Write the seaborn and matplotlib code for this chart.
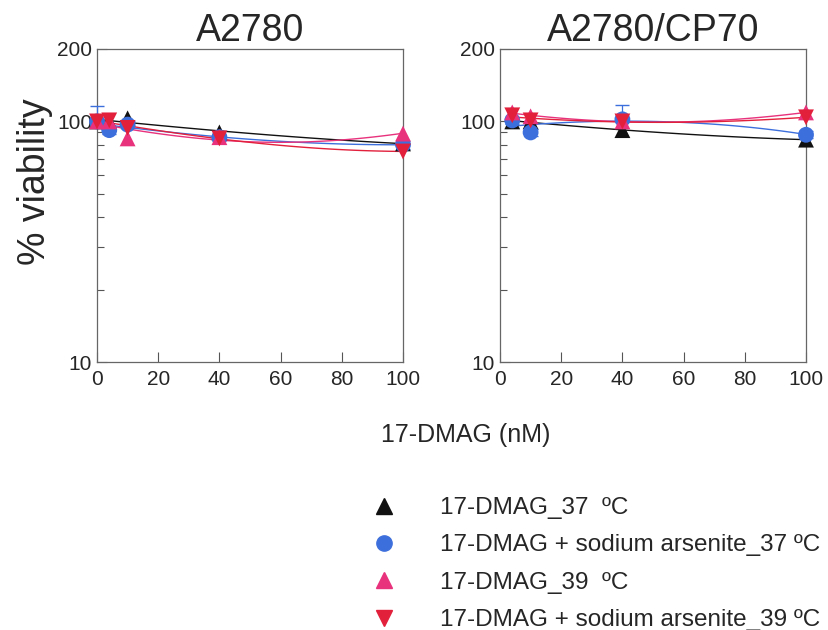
import numpy as np
import pandas as pd
import matplotlib
matplotlib.use('Agg')
import matplotlib.pyplot as plt
import seaborn as sns
from matplotlib.lines import Line2D

# 数据
series_names = ['17-DMAG_37  ºC', '17-DMAG + sodium arsenite_37 ºC',
                '17-DMAG_39  ºC', '17-DMAG + sodium arsenite_39 ºC']
colors = ['#111111', '#3d6fdc', '#e8327c', '#e2203c']
markers = ['^', 'o', '^', 'v']

dose_a2780 = [0, 4, 10, 40, 100]
a2780_37 = [100, 100, 103, 90, 81]
a2780_ars37 = [100, 92, 97, 86, 80]
a2780_39 = [100, 100, 85, 86, 89]
a2780_ars39 = [100, 101, 94, 85, 75]
a2780_err_lo = [3, 3, 3, 3, 3]
a2780_err_hi = [16, 3, 3, 3, 3]

dose_cp70 = [4, 10, 40, 100]
cp70_37 = [100, 100, 92, 84]
cp70_ars37 = [101, 90, 102, 88]
cp70_39 = [109, 105, 100, 109]
cp70_ars39 = [106, 101, 100, 104]
cp70_err_lo = [3, 3, 3, 3]
cp70_err_hi = [3, 3, 15, 3]

sns.set_style('ticks')
plt.rcParams['font.family'] = ['Liberation Sans', 'DejaVu Sans']

fig = plt.figure(figsize=(8.29, 6.3), dpi=100)
ax1 = fig.add_axes([97/829, 1-362/630, 306/829, 313/630])
ax2 = fig.add_axes([500/829, 1-362/630, 306/829, 313/630])

panels = [
    (ax1, 'A2780', dose_a2780, [a2780_37, a2780_ars37, a2780_39, a2780_ars39],
     [a2780_err_lo, a2780_err_hi]),
    (ax2, 'A2780/CP70', dose_cp70, [cp70_37, cp70_ars37, cp70_39, cp70_ars39],
     [cp70_err_lo, cp70_err_hi]),
]

for ax, title, dose, ys, err in panels:
    for i, y in enumerate(ys):
        df = pd.DataFrame({'dose': dose, 'viab': y})
        # 拟合曲线
        sns.regplot(data=df, x='dose', y='viab', order=2, ci=None, scatter=False,
                    ax=ax, color=colors[i], line_kws={'linewidth': 1.0})
        if i == 1:
            ax.errorbar(dose, y, yerr=err, fmt='none', ecolor=colors[i],
                        elinewidth=0.9, capsize=5, clip_on=False, zorder=3)
        sns.scatterplot(data=df, x='dose', y='viab', ax=ax, color=colors[i],
                        marker=markers[i], s=130, edgecolor='none', clip_on=False,
                        zorder=4, legend=False)
    ax.set_yscale('log')
    ax.set_xlim(0, 100)
    ax.set_ylim(10, 200)
    ax.set_xticks([0, 20, 40, 60, 80, 100])
    ax.set_yticks([10, 100, 200])
    ax.set_yticklabels(['10', '100', '200'])
    ax.set_yticks([20, 30, 40, 50, 60, 70, 80, 90], minor=True)
    ax.yaxis.set_minor_formatter(matplotlib.ticker.NullFormatter())
    ax.tick_params(axis='both', which='major', direction='in', length=7,
                   labelsize=15, width=0.8, color='#555555')
    ax.tick_params(axis='y', which='minor', direction='in', length=5,
                   width=0.8, color='#555555')
    ax.tick_params(axis='x', pad=6)
    for sp in ax.spines.values():
        sp.set_visible(True)
        sp.set_color('#666666')
        sp.set_linewidth(0.9)
    ax.set_xlabel('')
    ax.set_ylabel('')
    ax.set_title(title, fontsize=27, pad=6)

fig.text(35/829, 1-182/630, '% viability', rotation=90, fontsize=27,
         ha='center', va='center')
fig.text(466/829, 1-435/630, '17-DMAG (nM)', fontsize=18, ha='center', va='center')

handles = [Line2D([], [], linestyle='none', marker=markers[i], color=colors[i],
                  markersize=11) for i in range(4)]
fig.legend(handles, series_names, loc='upper left', bbox_to_anchor=(360/829, 1-485/630),
           frameon=False, fontsize=17.5, handlelength=1.0, handletextpad=1.8,
           labelspacing=0.63, borderpad=0)

fig.savefig('out.png', dpi=100)
